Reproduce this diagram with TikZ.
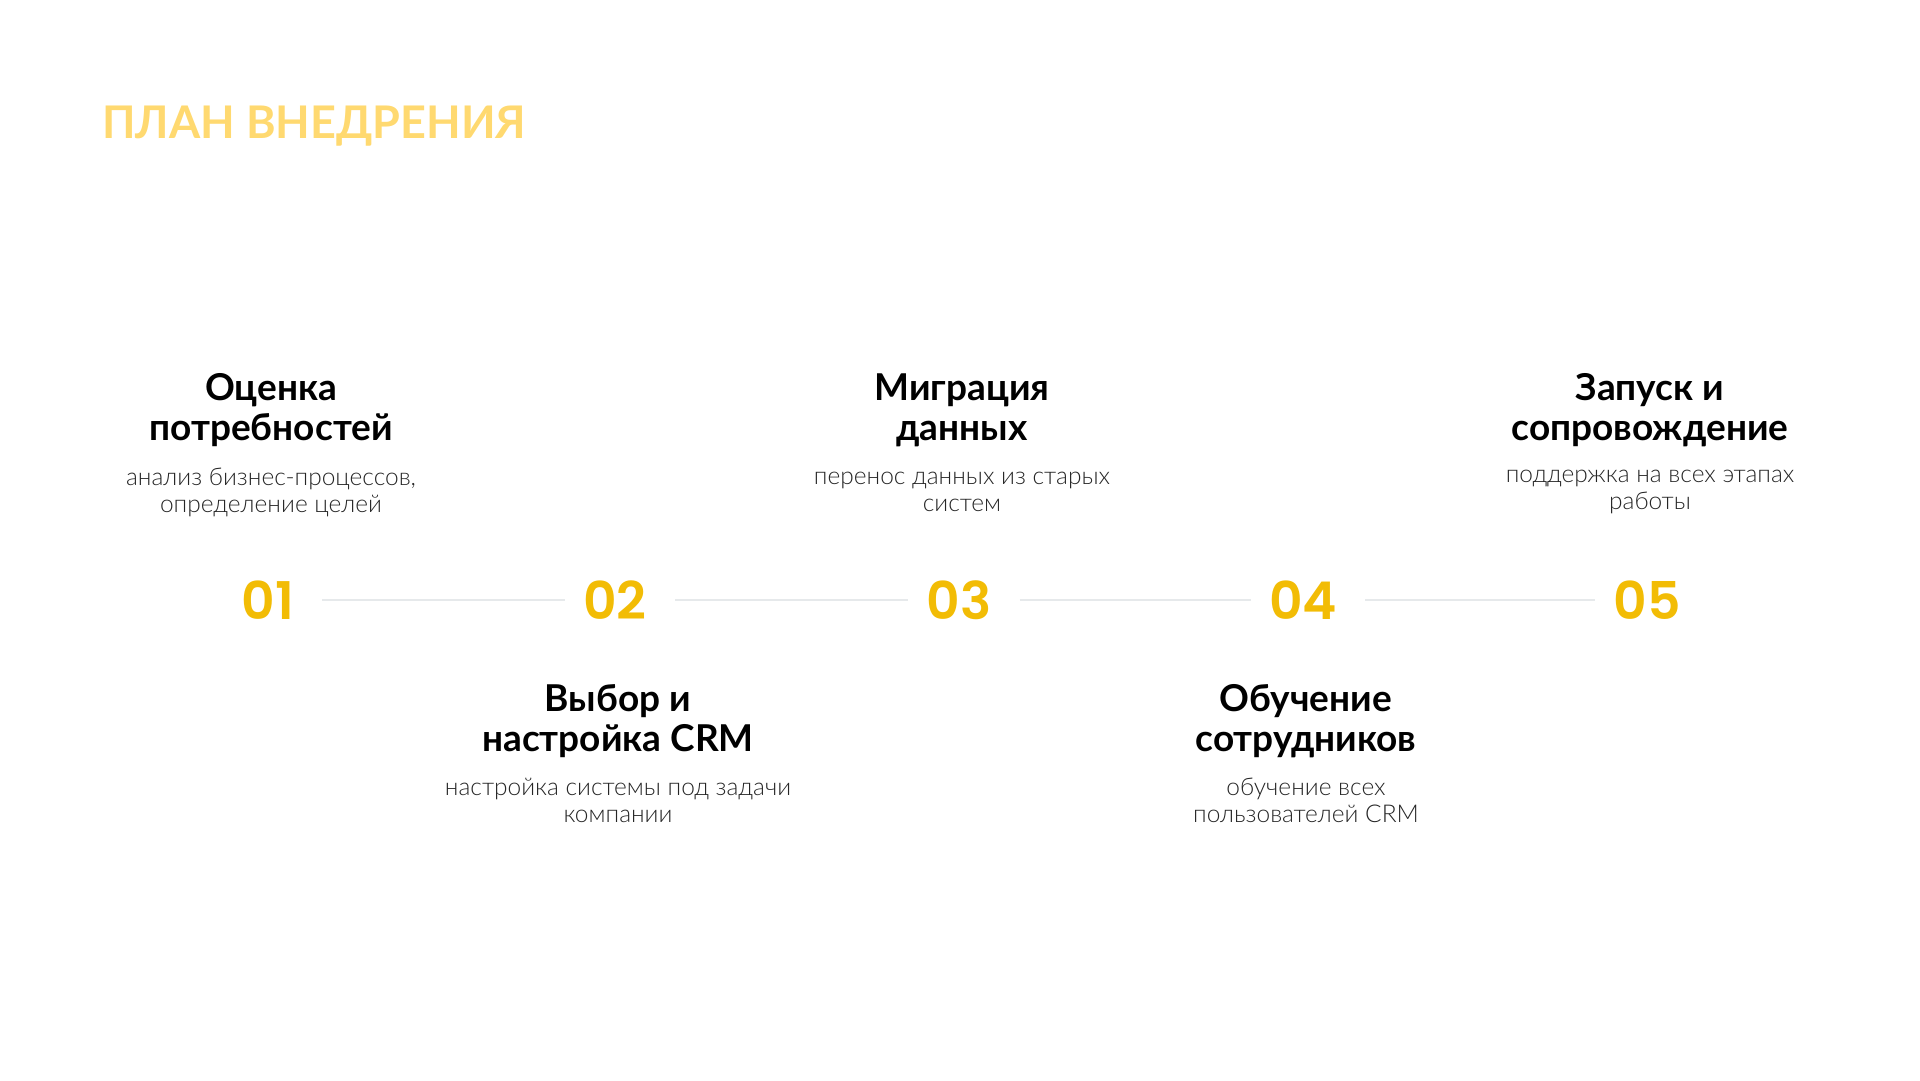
\documentclass[tikz,border=0pt]{standalone}
\usepackage{fontspec}
\setmainfont{Lato}
\newfontfamily\numfont{Poppins SemiBold}
\newfontfamily\subfont{Lato Light}
\definecolor{titleyellow}{HTML}{FFD970}
\definecolor{numyellow}{HTML}{F2BC05}
\definecolor{linegray}{HTML}{E6E9EB}
\definecolor{subgray}{HTML}{262626}

\tikzset{
  stepnum/.style={font=\numfont\fontsize{52}{52}\selectfont, text=numyellow, inner sep=0pt},
  stephead/.style={font=\bfseries\fontsize{37}{40}\selectfont, align=center, inner sep=0pt},
  stepdesc/.style={font=\subfont\fontsize{24.5}{27}\selectfont, align=center, text=subgray, inner sep=0pt},
}

\begin{document}
\begin{tikzpicture}[x=1pt, y=-1pt]
\useasboundingbox (0,0) rectangle (1920,1080);
\node[anchor=base west, font=\bfseries\fontsize{45}{45}\selectfont, text=titleyellow, inner sep=0pt] (title) at (102,138) {ПЛАН ВНЕДРЕНИЯ};
% steps: number, heading, description
\foreach \i/\x/\hy/\dy/\h/\d in {
  1/268/410/492/{Оценка\\потребностей}/{анализ бизнес-процессов,\\определение целей},
  2/615/721/800/{Выбор и\\настройка CRM}/{настройка системы под задачи\\компании},
  3/959/410/492/{Миграция\\данных}/{перенос данных из старых\\систем},
  4/1303/721/800/{Обучение\\сотрудников}/{обучение всех\\пользователей CRM},
  5/1647/410/492/{Запуск и\\сопровождение}/{поддержка на всех этапах\\работы}} {
  \node[stepnum] (n\i) at (\x,600) {0\i};
  \node[stephead] (h\i) at (\x+3,\hy) {\h};
  \node[stepdesc] (d\i) at (\x+3,\dy) {\d};
}
\foreach \i [evaluate=\i as \j using int(\i+1)] in {1,...,4}
  \draw[linegray, line width=2pt, shorten <=28pt, shorten >=18pt] (n\i) -- (n\j);
\end{tikzpicture}
\end{document}
